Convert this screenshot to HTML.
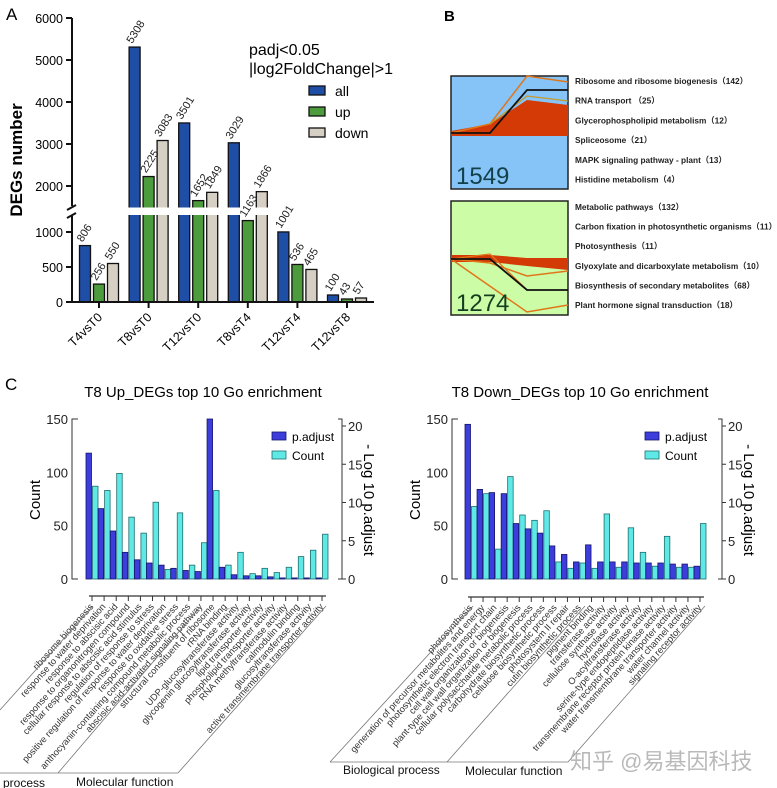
<!DOCTYPE html>
<html><head><meta charset="utf-8"><style>
body{margin:0;background:#fff;}
svg{display:block;font-family:"Liberation Sans","Noto Sans CJK SC",sans-serif;}
</style></head><body>
<svg id="fig" width="777" height="788" viewBox="0 0 777 788" xmlns="http://www.w3.org/2000/svg">
<text x="6" y="20" font-size="17">A</text>
<text x="444" y="21" font-size="15" font-weight="bold">B</text>
<text x="5" y="390" font-size="17">C</text>
<g id="pa"></g>
<g id="pb"></g>
<g id="pc"></g>
</svg>
<script>
const NS="http://www.w3.org/2000/svg";
function mk(p,t,a,txt){const e=document.createElementNS(NS,t);for(const k in a)e.setAttribute(k,a[k]);if(txt!==undefined)e.textContent=txt;p.appendChild(e);return e;}

// ---------- Panel A data ----------
const aCats=["T4vsT0","T8vsT0","T12vsT0","T8vsT4","T12vsT4","T12vsT8"];
const aAll=[806,5308,3501,3029,1001,100];
const aUp=[256,2225,1652,1163,536,43];
const aDown=[550,3083,1849,1866,465,57];
const aTicksLow=[0,500,1000];
const aTicksHigh=[2000,3000,4000,5000,6000];

const pa=document.getElementById('pa');
function aY(v){ if(v<=1250) return 302-v*0.07; if(v<1500) return 215-(v-1250)*0.032; return 186-(v-2000)*0.042; }
function aX(i){return 99+i*49.6;}
const aSeries=[{d:aAll,c:"#1f4ea6",o:-14,n:"all"},{d:aUp,c:"#4c9b3c",o:0,n:"up"},{d:aDown,c:"#d5d0c3",o:14,n:"down"}];
aSeries.forEach(s=>{
  s.d.forEach((v,i)=>{
    const x=aX(i)+s.o-5.5, y=aY(v);
    const r=mk(pa,'rect',{x:x,y:y,width:11,height:302-y,fill:s.c,stroke:"#111","stroke-width":1.3});
    
    
  });
});
// break band
mk(pa,'rect',{x:73,y:207.5,width:310,height:7.5,fill:"#fff"});
aSeries.forEach(s=>{
  s.d.forEach((v,i)=>{
    const x=aX(i)+s.o-5.5, y=aY(v);
    const t=mk(pa,'text',{x:x+3,y:y-3,"font-size":11,fill:"#222",transform:`rotate(-58 ${x+3} ${y-3})`},String(v));
    
    
  });
});
// axes
mk(pa,'path',{d:"M72 18 V206 M72 216 V302 H374",stroke:"#111","stroke-width":2,fill:"none"});
mk(pa,'path',{d:"M67 210 L76 205 M67 218 L76 213",stroke:"#111","stroke-width":2});
aTicksLow.concat(aTicksHigh).forEach(v=>{
  const y=aY(v);
  mk(pa,'line',{x1:66,x2:72,y1:y,y2:y,stroke:"#111","stroke-width":2});
  const t=mk(pa,'text',{x:63,y:y+5,"font-size":12.5,"text-anchor":"end"},String(v));
  
  
});
aCats.forEach((c,i)=>{
  const x=aX(i);
  mk(pa,'line',{x1:x,x2:x,y1:302,y2:308,stroke:"#111","stroke-width":2});
  const t=mk(pa,'text',{x:x+4,y:318,"font-size":12.5,"text-anchor":"end",transform:`rotate(-45 ${x+4} 318)`},c);
  
  
});
mk(pa,'text',{x:22,y:160,"font-size":17,"font-weight":"bold","text-anchor":"middle",transform:"rotate(-90 22 160)",},"DEGs number");
mk(pa,'text',{x:249,y:55,"font-size":16},"padj<0.05");
mk(pa,'text',{x:249,y:74,"font-size":16},"|log2FoldChange|>1");
aSeries.forEach((s,k)=>{
  const y=86+k*21;
  mk(pa,'rect',{x:309,y:y,width:16,height:9,fill:s.c,stroke:"#111","stroke-width":1.3,});
  mk(pa,'text',{x:335,y:y+10,"font-size":14,},s.n);
});

// ---------- Panel B ----------
const pb=document.getElementById('pb');
mk(pb,'rect',{x:451,y:76,width:117,height:113,fill:"#86c3f7",stroke:"#222","stroke-width":1.5,});
mk(pb,'rect',{x:451,y:201,width:117,height:114,fill:"#cdfca6",stroke:"#222","stroke-width":1.5,});
mk(pb,'polygon',{points:"451,131 490,124 527,100 568,105 568,136 451,136",fill:"#d43a05"});
mk(pb,'polyline',{points:"451,133 490,124 527,76 568,82",fill:"none",stroke:"#e0761a","stroke-width":1.5});
mk(pb,'polyline',{points:"490,124 527,96 568,101",fill:"none",stroke:"#c59a2a","stroke-width":1.3});
mk(pb,'polyline',{points:"451,133 490,133 527,90 568,90",fill:"none",stroke:"#111","stroke-width":1.8});
mk(pb,'polygon',{points:"451,255 490,255 527,258 568,258 568,270 527,266 490,262 451,262",fill:"#d43a05"});
mk(pb,'polyline',{points:"451,259 527,312 568,305",fill:"none",stroke:"#e0761a","stroke-width":1.5});
mk(pb,'polyline',{points:"451,259 490,263 527,276 568,271",fill:"none",stroke:"#e0761a","stroke-width":1.5});
mk(pb,'polyline',{points:"451,259 490,254 527,290",fill:"none",stroke:"#e0761a","stroke-width":1.3});
mk(pb,'polyline',{points:"451,259 490,259 527,290 568,290",fill:"none",stroke:"#111","stroke-width":1.8});
mk(pb,'text',{x:456,y:184,"font-size":24,fill:"#123f4a"},"1549");
mk(pb,'text',{x:456,y:311,"font-size":24,fill:"#123f20"},"1274");
const bUp=["Ribosome and ribosome biogenesis（142）","RNA transport （25）","Glycerophospholipid metabolism（12）","Spliceosome（21）","MAPK signaling pathway - plant（13）","Histidine metabolism（4）"];
const bDown=["Metabolic pathways（132）","Carbon fixation in photosynthetic organisms（11）","Photosynthesis（11）","Glyoxylate and dicarboxylate metabolism（10）","Biosynthesis of secondary metabolites（68）","Plant hormone signal transduction（18）"];
bUp.forEach((s,i)=>{const t=mk(pb,'text',{x:575,y:84+i*19.7,"font-size":8.3,"font-weight":"600",fill:"#222"},s);});
bDown.forEach((s,i)=>{const t=mk(pb,'text',{x:575,y:210+i*19.6,"font-size":8.3,"font-weight":"600",fill:"#222"},s);});

// ---------- Panel C data ----------
const upCats=["ribosome biogenesis","response to water deprivation","response to abscisic acid","response to organonitrogen compound","cellular response to abscisic acid stimulus","regulation of response to stress","positive regulation of response to water deprivation","response to oxidative stress","anthocyanin-containing compound metabolic process","abscisic acid-activated signaling pathway","structural constituent of ribosome","rRNA binding","UDP-glucosyltransferase activity","glycogenin glucosyltransferase activity","lipid transporter activity","phospholipid transporter activity","RNA methyltransferase activity","calmodulin binding","glucosyltransferase activity","active transmembrane transporter activity"];
const upPadj=[118,66,45,25,18,15,13,10,8,7,150,11,4,3,3,2,1,1,1,1];
const upCount=[87,83,99,58,43,72,9,62,13,34,83,13,25,5,10,6,11,21,27,42];
const dnCats=["photosynthesis","generation of precursor metabolites and energy","photosynthetic electron transport chain","cell wall organization or biogenesis","plant-type cell wall organization or biogenesis","cellular polysaccharide metabolic process","carbohydrate biosynthetic process","cellulose biosynthetic process","photosystem II repair","cutin biosynthetic process","pigment binding","transferase activity","cellulose synthase activity","hydrolase activity","O-acyltransferase activity","serine-type endopeptidase activity","transmembrane receptor protein kinase activity","water transmembrane transporter activity","water channel activity","signaling receptor activity"];
const dnPadj=[145,84,81,80,52,47,43,31,23,16,32,16,16,16,15,15,15,14,14,12];
const dnCount=[68,80,28,96,60,55,64,16,10,15,10,61,11,48,25,12,40,11,11,52];
const cLeftTicks=[0,50,100,150];
const cRightTicks=[0,5,10,15,20];

const pc=document.getElementById('pc');
function drawC(o){
  const g=mk(pc,'g',{});
  
  
  const y0=579, yS=160/150;
  const yL=v=>y0-v*yS;
  const yR=v=>y0-v*(153/20);
  const step=(o.x1-o.x0)/(o.cats.length-1);
  const xC=i=>o.x0+i*step;
  mk(g,'text',{x:o.tx,y:397,"font-size":15,"text-anchor":"middle",},o.title);
  mk(g,'path',{d:`M${o.ax+6} 419 H${o.ax} V579 H${o.ax+6}`,stroke:"#333",fill:"none","stroke-width":1});
  mk(g,'path',{d:`M${o.rx-4} 419 H${o.rx} V579 H${o.rx-4}`,stroke:"#333",fill:"none","stroke-width":1});
  cLeftTicks.forEach(v=>{const t=mk(g,'text',{x:o.ax-4,y:yL(v)+5,"font-size":13,"text-anchor":"end",fill:"#222"},String(v));});
  cRightTicks.forEach(v=>{mk(g,'line',{x1:o.rx,x2:o.rx+4,y1:yR(v),y2:yR(v),stroke:"#333"});const t=mk(g,'text',{x:o.rx+6,y:yR(v)+5,"font-size":13,fill:"#222"},String(v));});
  mk(g,'text',{x:o.ax-32,y:500,"font-size":15,"text-anchor":"middle",transform:`rotate(-90 ${o.ax-32} 500)`,},"Count");
  mk(g,'text',{x:o.rx+22,y:500,"font-size":15,"text-anchor":"middle",transform:`rotate(90 ${o.rx+22} 500)`,},"- Log 10 p.adjust");
  o.cats.forEach((c,i)=>{
    const cx=xC(i);
    const b=mk(g,'rect',{x:cx-6,y:yL(o.padj[i]),width:5.5,height:o.padj[i]*yS,fill:"#3d3ddb",stroke:"#14146a","stroke-width":0.8});
    
    
    const b2=mk(g,'rect',{x:cx+0.5,y:yL(o.count[i]),width:5.5,height:o.count[i]*yS,fill:"#5fe9e6",stroke:"#1f6e6e","stroke-width":0.8});
    
    
    mk(g,'line',{x1:cx,x2:cx,y1:o.xy,y2:o.xy+5,stroke:"#333"});
    const t=mk(g,'text',{x:cx+2,y:o.xy+11,"font-size":9.3,"text-anchor":"end",fill:"#333",transform:`rotate(-48 ${cx+2} ${o.xy+11})`},c);
    
    
  });
  mk(g,'line',{x1:o.x0-3,x2:o.x1+4,y1:o.xy,y2:o.xy,stroke:"#333","stroke-width":1.2});
  mk(g,'rect',{x:o.lx,y:432,width:14,height:8,fill:"#3d3ddb",stroke:"#14146a","stroke-width":0.8,});
  mk(g,'text',{x:o.lx+20,y:441,"font-size":12,},"p.adjust");
  mk(g,'rect',{x:o.lx,y:451,width:14,height:8,fill:"#5fe9e6",stroke:"#1f6e6e","stroke-width":0.8,});
  mk(g,'text',{x:o.lx+20,y:460,"font-size":12,},"Count");
  mk(g,'path',{d:o.bracket,stroke:"#777",fill:"none","stroke-width":0.8});
  o.groups.forEach(gr=>{const t=mk(g,'text',{x:gr[1],y:gr[2],"font-size":12,fill:"#111"},gr[0]);});
}
drawC({name:"up-go-chart",title:"T8 Up_DEGs top 10 Go enrichment",tx:203,cats:upCats,padj:upPadj,count:upCount,x0:92,x1:322,ax:72,rx:342,xy:596,lx:272,
  bracket:"M0 773 H178 M58 773 L200 607 M178 773 L326 606 M0 710 L92 607",groups:[["process",3,787],["Molecular function",76,786]]});
drawC({name:"down-go-chart",title:"T8 Down_DEGs top 10 Go enrichment",tx:580,cats:dnCats,padj:dnPadj,count:dnCount,x0:471,x1:700,ax:452,rx:722,xy:597,lx:645,
  bracket:"M330 762 H568 M330 762 L473 606 M447 762 L585 606 M568 762 L705 606",groups:[["Biological process",343,774],["Molecular function",465,775]]});
mk(pc,'text',{x:570,y:769,"font-size":22,fill:"#b9b9b9",},"知乎 @易基因科技");
</script>
</body></html>
